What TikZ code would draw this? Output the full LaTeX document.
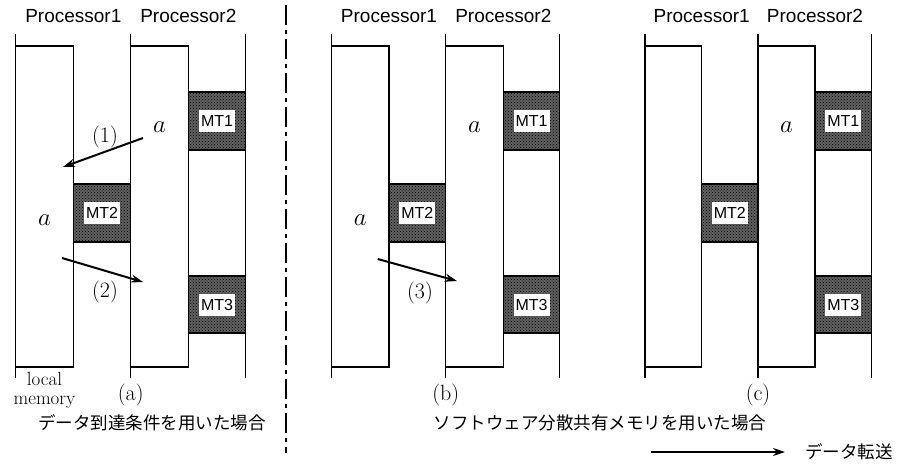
\documentclass[tikz,border=0pt]{standalone}
\usepackage{fontspec}
\newfontfamily\procfont{Liberation Sans}
\newfontfamily\jpfont{Noto Sans CJK JP}
\usetikzlibrary{arrows.meta,patterns}

\begin{document}
\begin{tikzpicture}[x=1pt,y=-1pt,
  rail/.style={line width=1.1pt},
  lmbox/.style={draw, line width=1.1pt, fill=white},
  mtbox/.style={draw, line width=1.1pt, fill=black!62},
  mtpat/.style={pattern=crosshatch dots, pattern color=black},
  mtlabel/.style={fill=white, inner sep=0pt, minimum width=36pt, minimum height=22pt,
    font=\procfont\fontsize{16}{16}\selectfont},
  proc/.style={font=\procfont\fontsize{19}{19}\selectfont},
  serif/.style={font=\fontsize{22}{22}\selectfont},
  var/.style={font=\fontsize{24}{24}\selectfont},
  jp/.style={font=\jpfont\fontsize{17.5}{17.5}\selectfont, inner sep=0pt},
  xfer/.style={line width=2pt, -{Stealth[length=12pt,width=8pt]}},
  sep/.style={line width=2pt, dash pattern=on 20pt off 5pt on 4pt off 5pt},
]
\useasboundingbox (0,0) rectangle (897,464);

% three panels: rails at xa, xc, xe; local memories xa..xb and xc..xd
\foreach \p/\xa/\xb/\xc/\xd/\xe in {a/15.7/73.3/130.7/188.3/245.7,
                                    b/331.7/389/445.7/503.3/559.7,
                                    c/645/701.7/758/815/871.7}{
  \draw[lmbox] (\xa,46) rectangle (\xb,367);
  \draw[lmbox] (\xc,46) rectangle (\xd,367);
  % message tables
  \filldraw[mtbox] (\xb,184) rectangle (\xc,242);
  \fill[mtpat] (\xb,184) rectangle (\xc,242);
  \filldraw[mtbox] (\xd,92) rectangle (\xe,150);
  \fill[mtpat] (\xd,92) rectangle (\xe,150);
  \filldraw[mtbox] (\xd,276) rectangle (\xe,333);
  \fill[mtpat] (\xd,276) rectangle (\xe,333);
  \draw[line width=1.1pt] (\xb,184) -- (\xc,184) (\xb,242) -- (\xc,242)
    (\xd,92) -- (\xe,92) (\xd,150) -- (\xe,150)
    (\xd,276) -- (\xe,276) (\xd,333) -- (\xe,333);
  \node[mtlabel] (mt2\p) at ({(\xb+\xc)/2},213) {MT2};
  \node[mtlabel] (mt1\p) at ({(\xd+\xe)/2},121) {MT1};
  \node[mtlabel] (mt3\p) at ({(\xd+\xe)/2},304.5) {MT3};
  % processor rails
  \draw[rail] (\xa,34) -- (\xa,378);
  \draw[rail] (\xc,34) -- (\xc,378);
  \draw[rail] (\xe,34) -- (\xe,378);
  % labels
  \node[proc] (pa\p) at (\xb,16) {Processor1};
  \node[proc] (pb\p) at (\xd,16) {Processor2};
  \node[serif] (lab\p) at (\xc,395) {(\p)};
  \node[var] (vb\p) at ({(\xc+\xd)/2},127) {$a$};
}

% copies of a in the local memory of Processor1
\node[var] (vaa) at (44.5,220) {$a$};
\node[var] (vab) at (360.3,220) {$a$};

\node[align=center, inner sep=0pt, anchor=north,
      font=\fontsize{19}{19}\selectfont] (lm) at (44.5,372) {local\\memory};

% data transfers
\coordinate (s1) at (143,138); \coordinate (e1) at (63,167);
\coordinate (s2) at (62,258);  \coordinate (e2) at (143,282);
\coordinate (s3) at (377.7,259); \coordinate (e3) at (457,281);
\draw[xfer] (s1) -- (e1);
\draw[xfer] (s2) -- (e2);
\draw[xfer] (s3) -- (e3);
\node[serif] (t1) at (105,137) {(1)};
\node[serif] (t2) at (105,292) {(2)};
\node[serif] (t3) at (420,293) {(3)};

% separator between the two schemes
\draw[sep] (286,5) -- (286,453);

% captions
\node[jp] (capa) at (152,423) {データ到達条件を用いた場合};
\node[jp] (capb) at (600,423) {ソフトウェア分散共有メモリを用いた場合};

% legend
\coordinate (lgs) at (651,452);
\coordinate (lge) at (785,452);
\draw[xfer] (lgs) -- (lge);
\node[jp, anchor=west] (lgt) at (805,452) {データ転送};
\end{tikzpicture}
\end{document}
